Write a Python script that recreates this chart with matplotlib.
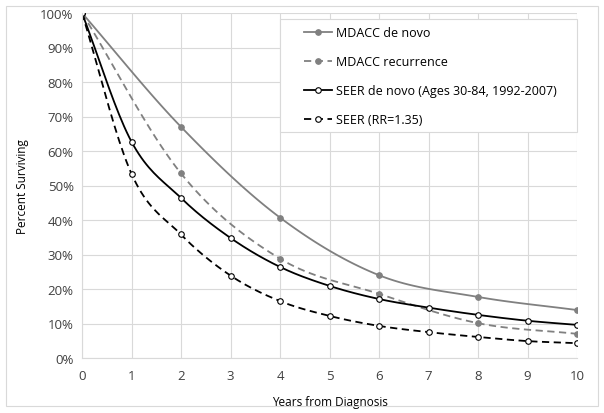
import numpy as np
import matplotlib
matplotlib.use("Agg")
import matplotlib.pyplot as plt
from matplotlib.ticker import PercentFormatter
from matplotlib.patches import Rectangle

plt.rcParams['font.family'] = ['Open Sans', 'DejaVu Sans']

# Data (percent surviving by years from diagnosis)
mdacc_years = [0, 2, 4, 6, 8, 10]
mdacc_denovo = [100, 67, 40.7, 24.0, 17.7, 13.9]
mdacc_recurrence = [100, 53.5, 28.8, 18.6, 10.1, 7.0]

seer_years = [0, 1, 2, 3, 4, 5, 6, 7, 8, 9, 10]
seer_denovo = [100, 62.7, 46.4, 34.8, 26.4, 20.9, 17.1, 14.6, 12.5, 10.8, 9.6]
seer_rr = [100, 53.4, 35.8, 23.9, 16.5, 12.2, 9.3, 7.5, 6.1, 4.9, 4.3]

labels = ["MDACC de novo", "MDACC recurrence",
          "SEER de novo (Ages 30-84, 1992-2007)", "SEER (RR=1.35)"]


def smooth(x, y, n=20):
    # Catmull-Rom style curve through the points, like Excel's smoothed line
    x = np.asarray(x, float)
    y = np.asarray(y, float)
    px = np.concatenate([[2 * x[0] - x[1]], x, [2 * x[-1] - x[-2]]])
    py = np.concatenate([[2 * y[0] - y[1]], y, [2 * y[-1] - y[-2]]])
    xs, ys = [], []
    t = np.linspace(0, 1, n, endpoint=False)
    for i in range(1, len(px) - 2):
        p0, p1, p2, p3 = py[i - 1], py[i], py[i + 1], py[i + 2]
        q0, q1, q2, q3 = px[i - 1], px[i], px[i + 1], px[i + 2]
        m1y, m2y = (p2 - p0) / 6, (p3 - p1) / 6
        m1x, m2x = (q2 - q0) / 6, (q3 - q1) / 6
        b = [(1 - t) ** 3, 3 * t * (1 - t) ** 2, 3 * t ** 2 * (1 - t), t ** 3]
        ys.append(b[0] * p1 + b[1] * (p1 + m1y) + b[2] * (p2 - m2y) + b[3] * p2)
        xs.append(b[0] * q1 + b[1] * (q1 + m1x) + b[2] * (q2 - m2x) + b[3] * q2)
    xs.append([x[-1]])
    ys.append([y[-1]])
    return np.concatenate(xs), np.concatenate(ys)


W, H = 604, 414
fig = plt.figure(figsize=(W / 100, H / 100), dpi=100)
# outer chart border
fig.patches.append(Rectangle((6 / W, 7 / H), 592 / W, 400 / H, transform=fig.transFigure,
                             fill=False, edgecolor='#d9d9d9', linewidth=0.8))
ax = fig.add_axes([82 / W, 55 / H, 495 / W, 345 / H])

gray = '#808080'
series = [
    (mdacc_years, mdacc_denovo, gray, '-', gray),
    (mdacc_years, mdacc_recurrence, gray, '--', gray),
    (seer_years, seer_denovo, 'black', '-', 'white'),
    (seer_years, seer_rr, 'black', '--', 'white'),
]
handles = []
for (xv, yv, col, ls, mfc), lab in zip(series, labels):
    sx, sy = smooth(xv, yv)
    dashes = (4, 2.5) if ls == '--' else (None, None)
    ax.plot(sx, sy, color=col, linestyle=ls, linewidth=1.3, dashes=dashes)
    ax.plot(xv, yv, linestyle='none', marker='o', markersize=4,
            markerfacecolor=mfc, markeredgecolor=col, markeredgewidth=0.8)
    h, = ax.plot([], [], color=col, linestyle=ls, linewidth=1.3, dashes=dashes, marker='o', markersize=4,
                 markerfacecolor=mfc, markeredgecolor=col, markeredgewidth=0.8, label=lab)
    handles.append(h)

ax.set_xlim(0, 10)
ax.set_ylim(0, 100)
ax.set_xticks(range(0, 11))
ax.set_yticks(range(0, 101, 10))
ax.yaxis.set_major_formatter(PercentFormatter(decimals=0))
ax.grid(True, color='#d9d9d9', linewidth=0.8)
ax.set_axisbelow(True)
for s in ['top', 'right']:
    ax.spines[s].set_visible(False)
for s in ['left', 'bottom']:
    ax.spines[s].set_color('#d9d9d9')
ax.tick_params(length=0, labelsize=9.5, pad=6, colors='#404040')
ax.tick_params(axis='x', pad=8)
ax.set_xlabel('Years from Diagnosis', fontsize=8.5, labelpad=9)
ax.set_ylabel('Percent Surviving', fontsize=8.5, labelpad=8)

# legend box drawn separately so the padding can differ left/right vs top/bottom
ax.add_patch(Rectangle((280 / W, 1 - 133 / H), 297 / W, 113 / H, transform=fig.transFigure,
                       facecolor='white', edgecolor='#d9d9d9', linewidth=0.8, zorder=4,
                       clip_on=False))
leg = fig.legend(handles=handles, loc='upper left', bbox_to_anchor=(304 / W, 1 - 27 / H),
                 fontsize=9, frameon=False, handlelength=2.2, handletextpad=0.35,
                 labelspacing=1.28, borderpad=0.0, borderaxespad=0.0)

fig.savefig('out.png', dpi=100)
